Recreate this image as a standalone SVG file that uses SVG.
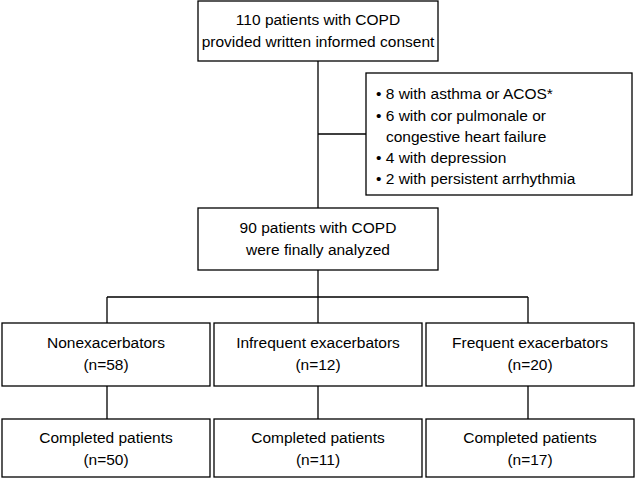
<svg xmlns="http://www.w3.org/2000/svg" width="636" height="479" viewBox="0 0 636 479">
<style>
.b{fill:#fff;stroke:#000;stroke-width:1.3}
.l{stroke:#000;stroke-width:1.3;fill:none}
text{font-family:"Liberation Sans",Arial,sans-serif;font-size:15.5px;fill:#000}
.c{text-anchor:middle}
</style>
<rect width="636" height="479" fill="#fff"/>
<g id="connectors">
<path class="l" d="M318 61V208M318 134H366M318 270V297M107 297H528M107 297V323M318 297V323M528 297V323M107 386V419M318 386V419M528 386V419"/>
</g>
<g id="n1"><rect class="b" x="198" y="1" width="240" height="60"/><text class="c" x="318" y="25">110 patients with COPD</text><text class="c" x="318" y="47">provided written informed consent</text></g>
<g id="n2"><rect class="b" x="366" y="73" width="266" height="122"/>
<text x="376" y="99">• 8 with asthma or ACOS*</text>
<text x="376" y="121">• 6 with cor pulmonale or</text>
<text x="386" y="142">congestive heart failure</text>
<text x="376" y="163">• 4 with depression</text>
<text x="376" y="184">• 2 with persistent arrhythmia</text></g>
<g id="n3"><rect class="b" x="198" y="208" width="240" height="62"/><text class="c" x="318" y="233">90 patients with COPD</text><text class="c" x="318" y="255">were finally analyzed</text></g>
<g id="n4"><rect class="b" x="2" y="323" width="208" height="63"/><text class="c" x="106" y="348">Nonexacerbators</text><text class="c" x="106" y="370">(n=58)</text></g>
<g id="n5"><rect class="b" x="214" y="323" width="208" height="63"/><text class="c" x="318" y="348">Infrequent exacerbators</text><text class="c" x="318" y="370">(n=12)</text></g>
<g id="n6"><rect class="b" x="426" y="323" width="208" height="63"/><text class="c" x="530" y="348">Frequent exacerbators</text><text class="c" x="530" y="370">(n=20)</text></g>
<g id="n7"><rect class="b" x="2" y="419" width="208" height="58"/><text class="c" x="106" y="443">Completed patients</text><text class="c" x="106" y="465">(n=50)</text></g>
<g id="n8"><rect class="b" x="214" y="419" width="208" height="58"/><text class="c" x="318" y="443">Completed patients</text><text class="c" x="318" y="465">(n=11)</text></g>
<g id="n9"><rect class="b" x="426" y="419" width="208" height="58"/><text class="c" x="530" y="443">Completed patients</text><text class="c" x="530" y="465">(n=17)</text></g>
</svg>
